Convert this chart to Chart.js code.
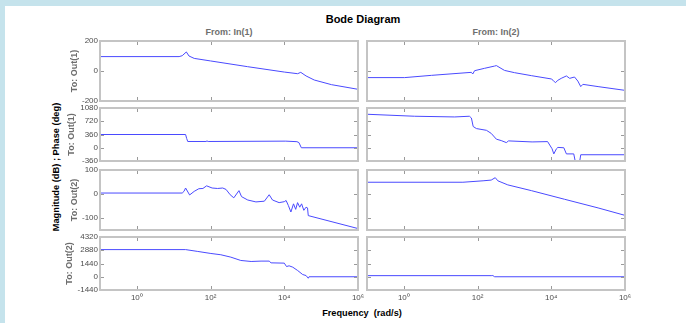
<!DOCTYPE html>
<html>
<head>
<meta charset="utf-8">
<title>Bode Diagram</title>
<script src="https://cdn.jsdelivr.net/npm/chart.js@4.4.1/dist/chart.umd.min.js"></script>
<style>
    html, body { margin: 0; padding: 0; }
    body {
        width: 686px; height: 323px; position: relative; overflow: hidden;
        background: #c5e3ec;
        font-family: "Liberation Sans", Arial, sans-serif;
    }
    #fig { position: absolute; left: 5px; top: 6px; right: 0; bottom: 0; background: #fff; }
    canvas { position: absolute; }
    .lbl {
        position: absolute; font-weight: bold; white-space: pre;
        transform: translate(-50%, -50%); line-height: 1;
    }
    .sub { color: #6e6e6e; font-size: 9px; }
</style>
</head>
<body>
<div id="fig"></div>
<div class="lbl" style="left:363px; top:19px; font-size:11px; color:#000;">Bode Diagram</div>
<div class="lbl sub" style="left:229px; top:32px;">From: In(1)</div>
<div class="lbl sub" style="left:496px; top:32px;">From: In(2)</div>
<div class="lbl" style="left:57px; top:167px; font-size:9.3px; color:#000; transform:translate(-50%,-50%) rotate(-90deg);">Magnitude (dB) ; Phase (deg)</div>
<div class="lbl" style="left:362px; top:314px; font-size:9.2px; color:#000;">Frequency  (rad/s)</div>

<script>
// frequency axis (rad/s), shared by all panels
const freqMin = 0.1;
const freqMax = 1e6;
const freqTicks = [1, 100, 1e4, 1e6];
const freqTickLabels = ['10⁰', '10²', '10⁴', '10⁶'];

// y axes per row: Out(1) magnitude, Out(1) phase, Out(2) magnitude, Out(2) phase
const rowMin = [-200, -360, -150, -1440];
const rowMax = [200, 1080, 100, 4320];
const rowTicks = [
    [-200, 0, 200],
    [-360, 0, 360, 720, 1080],
    [-100, 0, 100],
    [-1440, 0, 1440, 2880, 4320]
];
const rowNames = ['To: Out(1)', 'To: Out(1)', 'To: Out(2)', 'To: Out(2)'];

// In(1) -> Out(1)
const freqMag11 = [0.1, 14, 17, 22, 26, 36, 100, 1000, 1e4, 2.3e4, 2.8e4, 3.9e4, 6.5e4, 1.9e5, 1e6];
const mag11 = [96, 96, 102, 127, 100, 84, 67, 29, -7, -18, -9, -33, -60, -91, -122];
const freqPh11 = [0.1, 21, 22.5, 24, 75, 80, 86, 1.1e4, 2.2e4, 2.5e4, 2.9e4, 1e6];
const ph11 = [360, 360, 250, 170, 170, 185, 170, 180, 165, 140, 0, 0];

// In(1) -> Out(2)
const freqMag21 = [0.1, 17, 19, 21, 27, 36, 48, 62, 78, 110, 155, 214, 263, 340, 427, 589, 692, 1020, 1700,
    2880, 3890, 4790, 7240, 1e4, 1.12e4, 1.29e4, 1.51e4, 1.78e4, 2.04e4, 2.29e4, 2.63e4, 2.95e4, 3.39e4,
    3.89e4, 4.27e4, 4.47e4, 1e6];
const mag21 = [4, 4, 11, 25, -4, 11, 22, 23, 34, 25, 23, 25, 19, -3, -16, 14, -11, -25, -33,
    -30, -3, -25, -36, -32, -27, -48, -75, -41, -64, -36, -55, -41, -68,
    -55, -58, -90, -144];
const freqPh21 = [0.1, 21, 45, 102, 190, 355, 660, 1260, 2340, 3890, 4370, 1e4, 1.15e4, 1.35e4, 1.7e4,
    2.3e4, 3.16e4, 3.9e4, 4.47e4, 4.7e4, 1e6];
const ph21 = [2950, 2950, 2750, 2530, 2390, 2130, 1770, 1660, 1700, 1700, 1510, 1480, 1110, 1190, 1040,
    680, 240, 130, -160, 0, 0];

// In(2) -> Out(1)
const freqMag12 = [0.1, 1.05, 5.6, 68, 74, 83, 155, 290, 324, 537, 1000, 2880, 1e4, 1.12e4, 1.29e4,
    1.51e4, 1.86e4, 2.57e4, 3.16e4, 4.27e4, 5.25e4, 6.3e4, 7.2e4, 1.86e5, 1e6];
const mag12 = [-44, -44, -29, -9, -20, 2, 18, 33, 36, 4, -11, -31, -53, -62, -78,
    -62, -49, -33, -49, -40, -67, -104, -89, -104, -129];
const freqPh12 = [0.1, 1.95, 24, 60, 68, 76, 93, 174, 234, 324, 437, 603, 692, 3020, 7940, 1.05e4,
    1.17e4, 1.38e4, 1.51e4, 2.19e4, 2.57e4, 4.07e4, 4.47e4, 5.9e4, 6.3e4, 1e6];
const ph12 = [910, 856, 837, 856, 809, 577, 521, 474, 391, 233, 195, 140, 186, 158, 167, -28,
    -167, -28, 9, 0, -167, -167, -370, -370, -190, -190];

// In(2) -> Out(2)
const freqMag22 = [0.1, 40, 141, 234, 302, 355, 660, 2880, 2.29e4, 1.86e5, 1e6];
const mag22 = [49, 49, 55, 58, 68, 55, 38, 14, -22, -58, -89];
const freqPh22 = [0.1, 234, 260, 290, 1e6];
const ph22 = [120, 120, 130, 0, 0];

// layout of the 4x2 axes grid (px)
const ROW_TOP = [41, 108, 170, 237];
const ROW_H = [60, 53, 60, 53];
const COL_LEFT = [100, 367];
const PLOT_W = 258;
const TITLE_PAD = [9.6, 6.6, 9.6, 4.6];

const LINE_COLOR = '#4a4aff';
const BOX_COLOR = '#c4c4c4';
const TICK_COLOR = '#9a9a9a';
const LABEL_COLOR = '#4d4d4d';

Chart.defaults.font.family = '"Liberation Sans", Arial, sans-serif';

// MATLAB style box with inward ticks on all four sides
const matlabAxes = {
    id: 'matlabAxes',
    afterDatasetsDraw(chart) {
        const { ctx, chartArea: a, scales } = chart;
        ctx.save();
        ctx.strokeStyle = TICK_COLOR;
        ctx.lineWidth = 1;
        ctx.beginPath();
        scales.x.ticks.forEach(t => {
            const px = Math.round(scales.x.getPixelForValue(t.value)) + 0.5;
            ctx.moveTo(px, a.top); ctx.lineTo(px, a.top + 4);
            ctx.moveTo(px, a.bottom); ctx.lineTo(px, a.bottom - 4);
        });
        scales.y.ticks.forEach(t => {
            const py = Math.round(scales.y.getPixelForValue(t.value)) + 0.5;
            ctx.moveTo(a.left, py); ctx.lineTo(a.left + 4, py);
            ctx.moveTo(a.right, py); ctx.lineTo(a.right - 4, py);
        });
        ctx.stroke();
        ctx.strokeStyle = BOX_COLOR;
        ctx.lineWidth = 2;
        ctx.strokeRect(a.left, a.top, a.right - a.left, a.bottom - a.top);
        ctx.restore();
    }
};

function makePanel(row, col, freq, vals) {
    const padTop = 8, padRight = 12;
    const yW = col === 0 ? 40 : 10;
    const xH = row === 3 ? 22 : 8;
    const w = yW + PLOT_W + padRight;
    const h = padTop + ROW_H[row] + xH;

    const canvas = document.createElement('canvas');
    canvas.width = w; canvas.height = h;
    canvas.style.left = (COL_LEFT[col] - yW) + 'px';
    canvas.style.top = (ROW_TOP[row] - padTop) + 'px';
    canvas.style.width = w + 'px';
    canvas.style.height = h + 'px';
    document.body.appendChild(canvas);

    return new Chart(canvas, {
        type: 'line',
        data: {
            datasets: [{
                data: freq.map((f, i) => ({ x: f, y: vals[i] })),
                borderColor: LINE_COLOR,
                borderWidth: 1,
                pointRadius: 0,
                tension: 0,
                fill: false
            }]
        },
        options: {
            responsive: false,
            animation: false,
            devicePixelRatio: 1,
            layout: { padding: { top: padTop, right: padRight, left: 0, bottom: 0 } },
            plugins: { legend: { display: false }, tooltip: { enabled: false } },
            scales: {
                x: {
                    type: 'logarithmic',
                    min: freqMin,
                    max: freqMax,
                    afterBuildTicks: s => { s.ticks = freqTicks.map(v => ({ value: v })); },
                    afterFit: s => { s.height = xH; },
                    grid: { display: false, drawTicks: false },
                    border: { display: false },
                    ticks: {
                        display: row === 3,
                        autoSkip: false,
                        maxRotation: 0,
                        padding: 3,
                        color: LABEL_COLOR,
                        font: { size: 8 },
                        callback: v => freqTickLabels[freqTicks.indexOf(v)] ?? ''
                    }
                },
                y: {
                    min: rowMin[row],
                    max: rowMax[row],
                    afterBuildTicks: s => { s.ticks = rowTicks[row].map(v => ({ value: v })); },
                    afterFit: s => { s.width = yW; },
                    grid: { display: false, drawTicks: false },
                    border: { display: false },
                    ticks: {
                        display: col === 0,
                        padding: 2,
                        color: LABEL_COLOR,
                        font: { size: 8 },
                        callback: v => String(v)
                    },
                    title: {
                        display: col === 0,
                        text: rowNames[row],
                        color: '#6e6e6e',
                        font: { size: 9, weight: 'bold' },
                        padding: { top: TITLE_PAD[row], bottom: 0 }
                    }
                }
            }
        },
        plugins: [matlabAxes]
    });
}

makePanel(0, 0, freqMag11, mag11);
makePanel(1, 0, freqPh11, ph11);
makePanel(2, 0, freqMag21, mag21);
makePanel(3, 0, freqPh21, ph21);
makePanel(0, 1, freqMag12, mag12);
makePanel(1, 1, freqPh12, ph12);
makePanel(2, 1, freqMag22, mag22);
makePanel(3, 1, freqPh22, ph22);
</script>
</body>
</html>
